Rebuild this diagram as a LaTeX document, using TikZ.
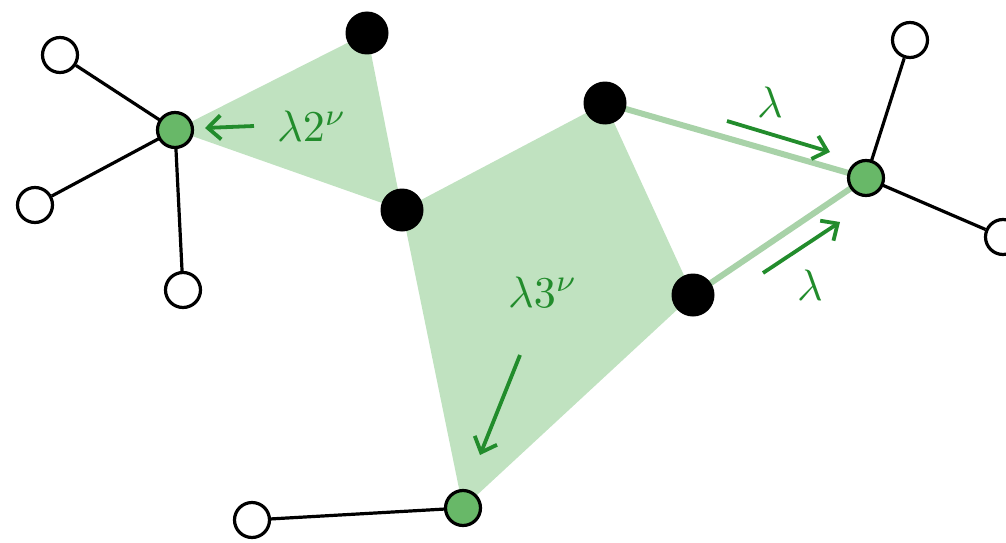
\documentclass[tikz,border=0pt]{standalone}
\usetikzlibrary{arrows.meta}
\definecolor{shadeg}{RGB}{192,226,192}
\definecolor{thickg}{RGB}{168,210,168}
\definecolor{nodeg}{RGB}{104,184,104}
\definecolor{darkg}{RGB}{34,140,44}
\tikzset{
  blk/.style={circle,fill=black,inner sep=0pt,minimum size=43pt},
  wht/.style={circle,draw=black,fill=white,line width=3.2pt,inner sep=0pt,minimum size=35pt},
  grn/.style={circle,draw=black,fill=nodeg,line width=3.2pt,inner sep=0pt,minimum size=35pt},
  edge/.style={line width=3.2pt,black},
  flow/.style={line width=6pt,thickg},
  garrow/.style={darkg,line width=3.8pt,-{Straight Barb[length=13pt,width=24pt,line width=3.8pt]}},
  glabel/.style={darkg,scale=4.4,inner sep=0pt}
}
\begin{document}
\begin{tikzpicture}[x=1pt,y=-1pt]
\useasboundingbox (0,0) rectangle (1006,543);
\coordinate (g1) at (175,130);
\coordinate (b1) at (367,33);
\coordinate (b2) at (402,210);
\coordinate (b3) at (605,103);
\coordinate (b4) at (693,295);
\coordinate (g2) at (866,178);
\coordinate (g3) at (463,508);
% shaded regions
\fill[shadeg] (g1) -- (b1) -- (b2) -- cycle;
\fill[shadeg] (b2) -- (b3) -- (b4) -- (g3) -- cycle;
\draw[flow] (b3) -- (g2);
\draw[flow] (b4) -- (g2);
% nodes
\node[wht] (w1) at (60,55) {};
\node[wht] (w2) at (35,205) {};
\node[wht] (w3) at (183,290) {};
\node[wht] (w4) at (910,40) {};
\node[wht] (w5) at (1003,237) {};
\node[wht] (w6) at (252,520) {};
\draw[edge] (g1) -- (w1);
\draw[edge] (g1) -- (w2);
\draw[edge] (g1) -- (w3);
\draw[edge] (g2) -- (w4);
\draw[edge] (g2) -- (w5);
\draw[edge] (g3) -- (w6);
\node[grn] (G1) at (g1) {};
\node[grn] (G2) at (g2) {};
\node[grn] (G3) at (g3) {};
\node[blk] (B1) at (b1) {};
\node[blk] (B2) at (b2) {};
\node[blk] (B3) at (b3) {};
\node[blk] (B4) at (b4) {};
% labels and arrows
\node[glabel] (l2) at (312,126) {$\lambda 2^{\nu}$};
\coordinate (a1s) at (254,126);
\coordinate (a1e) at (205,128);
\draw[garrow] (a1s) -- (a1e);
\node[glabel] (l3) at (543,292) {$\lambda 3^{\nu}$};
\coordinate (a2s) at (520,355);
\coordinate (a2e) at (480,455);
\draw[garrow] (a2s) -- (a2e);
\node[glabel] (lt) at (770,102) {$\lambda$};
\coordinate (a3s) at (727,121);
\coordinate (a3e) at (830,152);
\draw[garrow] (a3s) -- (a3e);
\node[glabel] (lb) at (810,285) {$\lambda$};
\coordinate (a4s) at (763,273);
\coordinate (a4e) at (840,222);
\draw[garrow] (a4s) -- (a4e);
\end{tikzpicture}
\end{document}
